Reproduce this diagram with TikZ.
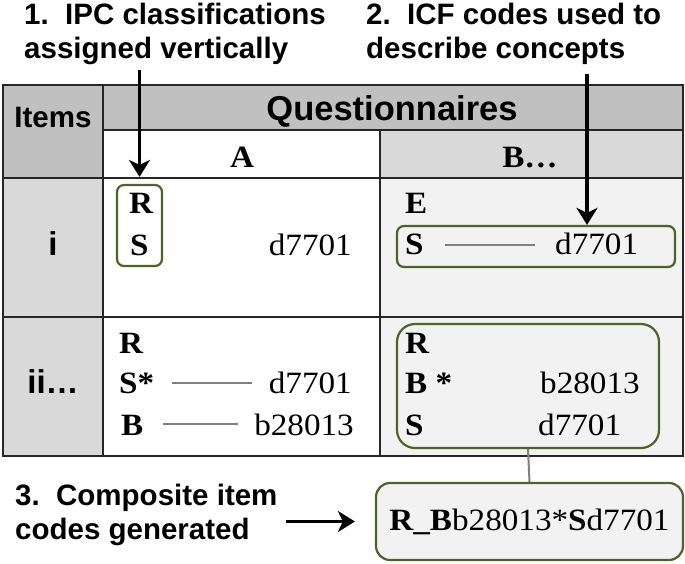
\documentclass[tikz,border=0pt]{standalone}
\usepackage{fontspec}
\setmainfont{Liberation Serif}[FakeStretch=1.07]
\newfontfamily\headfont{Liberation Sans}
\usetikzlibrary{arrows.meta, calc}
\definecolor{boxgreen}{RGB}{79,98,40}
\definecolor{hdrgray}{RGB}{192,192,192}
\definecolor{lblgray}{RGB}{217,217,217}
\definecolor{cellgray}{RGB}{242,242,242}
\definecolor{linkgray}{RGB}{128,128,128}

\begin{document}
\begin{tikzpicture}[
        x=1pt, y=-1pt,
        every node/.style={inner sep=0pt},
        note/.style={font=\headfont\bfseries\fontsize{29.5}{34}\selectfont, align=left, anchor=north west},
        hdr/.style={font=\headfont\bfseries\fontsize{#1}{#1}\selectfont, anchor=base},
        code/.style={font=\fontsize{31}{36}\selectfont, anchor=base west},
        codeR/.style={code, anchor=base east},
        codebox/.style={draw=boxgreen, line width=2.2pt, rounded corners=7pt},
        link/.style={draw=linkgray, line width=2pt},
        pointer/.style={-{Stealth[length=17pt,width=21pt,inset=5pt]}, line width=3.6pt},
        rule/.style={draw=black!85, line width=1.4pt}
    ]
    \useasboundingbox (0,0) rectangle (685,563);

    % table background
    \fill[hdrgray] (3,85) rectangle (683,130);
    \fill[hdrgray] (3,85) rectangle (103,178);
    \fill[white] (103,130) rectangle (380,178);
    \fill[lblgray] (380,130) rectangle (683,178);
    \fill[lblgray] (3,178) rectangle (103,456);
    \fill[white] (103,178) rectangle (380,456);
    \fill[cellgray] (380,178) rectangle (683,456);
    % table rules
    \draw[rule] (3,85) rectangle (683,456);
    \draw[rule] (103,85) -- (103,456);
    \draw[rule] (103,130) -- (683,130);
    \draw[rule] (380,130) -- (380,456);
    \foreach \y in {178,317}
        \draw[rule] (3,\y) -- (683,\y);

    % headers
    \node[hdr=29.5] (items) at (53,127) {Items};
    \node[hdr=34.5] (quest) at (392,120) {Questionnaires};
    \node[code, anchor=base] (colA) at (242,167) {\textbf{A}};
    \node[code, anchor=base] (colB) at (530,167) {\textbf{B\ldots}};
    \node[hdr=33] (rowi) at (53,255) {i};
    \node[hdr=33] (rowii) at (53,393) {ii\ldots};

    % item i
    \node[code] (rA1) at (129,213) {\textbf{R}};
    \node[code] (sA1) at (130,255) {\textbf{S}};
    \node[codeR] (dA1) at (352,255) {d7701};
    \node[codebox, minimum width=45pt, minimum height=81pt] (boxA1) at (139.5,225.5) {};

    \node[code] (eB1) at (405,213) {\textbf{E}};
    \node[code] (sB1) at (405,254) {\textbf{S}};
    \node[code] (dB1) at (555,254) {d7701};
    \node[codebox, minimum width=278pt, minimum height=41pt] (boxB1) at (536,246.5) {};
    \draw[link] ($(sB1.base east)+(21,-9)$) -- ($(dB1.base west)+(-20,-9)$);

    % item ii
    \node[code] (rA2) at (119,353) {\textbf{R}};
    \node[code] (sA2) at (119,393) {\textbf{S*}};
    \node[codeR] (dA2) at (352,393) {d7701};
    \node[code] (bA2) at (121,435) {\textbf{B}};
    \node[codeR] (bcA2) at (354,435) {b28013};
    \draw[link] ($(sA2.base east)+(18,-10)$) -- ($(dA2.base west)+(-17,-10)$);
    \draw[link] ($(bA2.base east)+(19,-11)$) -- ($(bcA2.base west)+(-16,-11)$);

    \node[code] (rB2) at (405,353) {\textbf{R}};
    \node[code] (bB2) at (405,393) {\textbf{B *}};
    \node[code] (bcB2) at (540,393) {b28013};
    \node[code] (sB2) at (405,435) {\textbf{S}};
    \node[code] (dB2) at (538,435) {d7701};
    \node[codebox, rounded corners=18pt, minimum width=262pt, minimum height=124pt] (boxB2) at (528,386) {};

    % composite code
    \node[codebox, rounded corners=14pt, fill=cellgray, minimum width=307pt, minimum height=77pt,
          font=\fontsize{31}{36}\selectfont] (comp) at (529.5,521.5) {\textbf{R\_B}b28013*\textbf{S}d7701};
    \draw[link] (boxB2.south) -- (comp.north);

    % notes
    \node[note] (note1) at (24,3) {1.~~IPC classifications\\assigned vertically};
    \node[note] (note2) at (366,3) {2.~~ICF codes used to\\describe concepts};
    \node[note] (note3) at (15,484) {3.~~Composite item\\codes generated};

    \coordinate (tip2) at ($(boxB1.north)+(51,0)$);
    \draw[pointer] ($(note1.south -| boxA1.north)+(0,5)$) -- ($(boxA1.north)+(0,-7)$);
    \draw[pointer] ($(note2.south -| tip2)+(0,9)$) -- (tip2);
    \draw[pointer] ($(note3.east |- comp.west)+(8,0)$) -- ($(comp.west)+(-20,0)$);
\end{tikzpicture}
\end{document}
